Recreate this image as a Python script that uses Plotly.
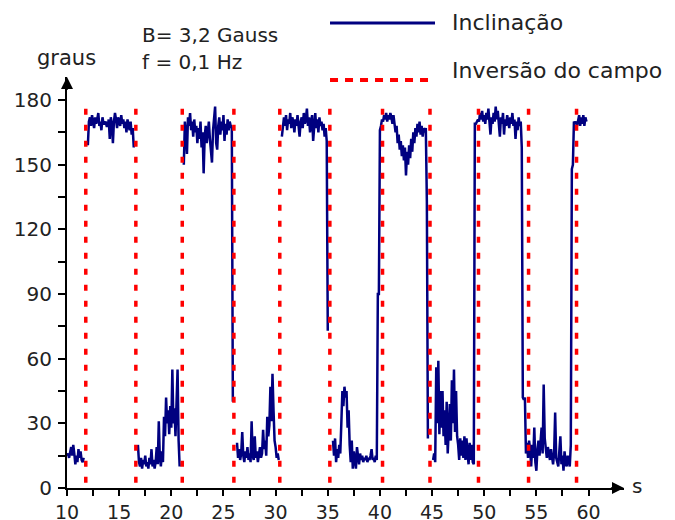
import plotly.graph_objects as go

STEP = 0.1

low0_start = 10.0
low0 = [15, 16, 14, 17, 19, 15, 20, 16, 11, 15, 12, 18, 14, 17, 13, 12, 14]

high1_start = 12.0
high1 = [159, 170, 172, 168, 173, 170, 167, 172, 169, 171, 174, 168, 170, 166, 172,
         169, 169, 170, 168, 168, 171, 162, 172, 169, 160, 170, 174, 171, 167, 172,
         170, 168, 173, 169, 171, 167, 170, 165, 171, 168, 166, 170, 164, 167, 158]

low1_start = 16.8
low1 = [20, 12, 10, 14, 9, 13, 11, 15, 10, 12, 9, 14, 11, 18, 10, 13, 9, 12, 19, 11,
        31, 14, 10, 17, 12, 33, 24, 42, 30, 36, 25, 38, 28, 55, 30, 37, 24, 36, 55, 22, 10]

high2_start = 21.2
high2 = [150, 170, 165, 155, 172, 168, 174, 166, 170, 163, 171, 165, 168, 160, 167,
         162, 170, 158, 165, 146, 163, 168, 160, 166, 170, 162, 157, 151, 166, 171,
         177, 160, 157, 168, 172, 164, 170, 166, 173, 161, 169, 164, 171, 166, 170,
         168, 167, 40]

low2_start = 26.3
low2 = [21, 14, 18, 13, 16, 26, 15, 12, 17, 14, 19, 13, 16, 12, 31, 15, 13, 24, 14, 17,
        12, 16, 19, 14, 16, 27, 18, 22, 15, 33, 24, 29, 47, 31, 53, 36, 22, 19, 14, 16, 13]

high3_start = 30.6
high3 = [163, 170, 172, 168, 173, 166, 171, 169, 174, 167, 172, 170, 165, 171, 168,
         173, 166, 163, 170, 172, 167, 174, 169, 171, 176, 168, 172, 165, 170, 173,
         161, 169, 174, 167, 171, 165, 172, 168, 170, 166, 169, 163, 167, 161, 73]

low3_start = 35.5
low3 = [22, 15, 23, 12, 18, 14, 20, 16, 30, 45, 38, 47, 42, 45, 28, 36, 20, 12, 22, 9,
        17, 12, 9, 19, 14, 11, 16, 13, 15, 12, 14, 13, 15, 12, 14, 13, 15, 18, 13, 14,
        12, 15, 13]
rise3 = [90, 90]
high4 = [166, 168, 171, 170, 173, 171, 174, 170, 173, 171, 174, 172, 169, 173, 170,
         165, 168, 160, 164, 157, 161, 154, 159, 152, 158, 145, 156, 150, 159, 153,
         162, 156, 165, 160, 167, 163, 169, 165, 170, 164, 168, 163, 167, 165, 167,
         133, 23]

low4_start = 45.1
low4 = [13, 16, 12, 56, 30, 59, 25, 45, 28, 45, 24, 36, 20, 40, 16, 30, 39, 22, 50, 30,
        55, 26, 45, 24, 20, 13, 23, 15, 22, 14, 24, 13, 23, 16, 11, 21, 13, 20, 12, 11]
rise4 = [169, 169, 170, 171, 170]
high5 = [174, 171, 175, 170, 173, 169, 174, 171, 176, 170, 164, 172, 169, 174, 170,
         177, 171, 175, 168, 163, 172, 169, 174, 164, 171, 168, 173, 170, 167, 172,
         169, 174, 168, 171, 162, 170, 166, 172, 168, 170, 158]
drop5 = [42, 41, 42]
low5 = [16, 21, 14, 22, 18, 10, 20, 14, 28, 12, 8, 18, 22, 15, 20, 28, 16, 48, 23, 17,
        14, 19, 15, 13, 18, 14, 11, 16, 35, 14, 12, 10, 17, 24, 11, 15, 8, 17, 12, 10,
        15, 12, 10, 20]
rise5 = [148, 150]
high6 = [170, 169, 170, 168, 171, 173, 168, 172, 169, 173, 168, 172, 170]

segments = [
    (low0_start, low0),
    (high1_start, high1),
    (low1_start, low1),
    (high2_start, high2),
    (low2_start, low2),
    (high3_start, high3),
    (low3_start, low3 + rise3 + high4),
    (low4_start, low4 + rise4 + high5 + drop5 + low5 + rise5 + high6),
]

# --- Inversão do campo (s) ---
inversion_times = [11.8, 16.6, 21.05, 26.0, 30.4, 35.2, 40.25, 44.8, 49.45, 54.25, 58.85]
inversion_top = 176

x_major = [10, 15, 20, 25, 30, 35, 40, 45, 50, 55, 60]
x_minor = [12.5, 17.5, 22.5, 27.5, 32.5, 37.5, 42.5, 47.5, 52.5, 57.5]
y_major = [0, 30, 60, 90, 120, 150, 180]
y_minor = [15, 45, 75, 105, 135, 165]

FONT = "DejaVu Sans"
TXT = "#222222"
BLUE = "#000080"
RED = "#ff0000"

bx, by = [], []
for start, vals in segments:
    for i, v in enumerate(vals):
        bx.append(round(start + i * STEP, 3))
        by.append(v)
    bx.append(None)
    by.append(None)

rx, ry = [], []
for t in inversion_times:
    rx += [t, t, None]
    ry += [inversion_top, 0, None]

fig = go.Figure()
fig.add_trace(go.Scatter(x=bx, y=by, mode="lines", connectgaps=False,
                         line=dict(color=BLUE, width=2.5), showlegend=False,
                         name="Inclinação"))
fig.add_trace(go.Scatter(x=rx, y=ry, mode="lines",
                         line=dict(color=RED, width=3.5, dash="6px,10px"),
                         showlegend=False, name="Inversão do campo"))

axis_common = dict(showgrid=False, zeroline=False, showline=True, linecolor="black",
                   linewidth=2, ticks="outside", tickwidth=1.5,
                   tickcolor="black", automargin=False)

fig.update_xaxes(range=[10, 63.4], tickvals=x_major, ticktext=[str(v) for v in x_major],
                 ticklen=6, tickfont=dict(family=FONT, size=19, color=TXT),
                 minor=dict(tickvals=x_minor, ticks="outside", ticklen=6, tickwidth=1.5,
                            tickcolor="black"),
                 ticklabelstandoff=0, **axis_common)
fig.update_yaxes(range=[0, 190.7], tickvals=y_major, ticktext=[str(v) for v in y_major],
                 ticklen=7, tickfont=dict(family=FONT, size=20, color=TXT),
                 minor=dict(tickvals=y_minor, ticks="outside", ticklen=7, tickwidth=1.5,
                            tickcolor="black"),
                 ticklabelstandoff=2, **axis_common)

# axis arrowheads
fig.add_annotation(x=63.4, y=0, ax=62.0, ay=0, xref="x", yref="y", axref="x", ayref="y",
                   showarrow=True, arrowhead=2, arrowsize=1.6, arrowwidth=1.5,
                   arrowcolor="black", text="")
fig.add_annotation(x=10, y=190.7, ax=10, ay=184, xref="x", yref="y", axref="x", ayref="y",
                   showarrow=True, arrowhead=2, arrowsize=1.6, arrowwidth=1.5,
                   arrowcolor="black", text="")

# custom legend
fig.add_shape(type="line", xref="paper", yref="paper", x0=0.4722, x1=0.6607,
              y0=1.1314, y1=1.1314, line=dict(color=BLUE, width=3))
fig.add_shape(type="line", xref="paper", yref="paper", x0=0.4722, x1=0.6607,
              y0=0.9927, y1=0.9927, line=dict(color=RED, width=4, dash="8px,7px"))

def label(text, x, y, size=20, xanchor="left"):
    fig.add_annotation(text=text, x=x, y=y, xref="paper", yref="paper",
                       xanchor=xanchor, yanchor="middle", showarrow=False,
                       font=dict(family=FONT, size=size, color=TXT))

label("Inclinação", 0.6876, 1.1338, size=22)
label("Inversão do campo", 0.6876, 1.0170, size=22)
label("B= 3,2 Gauss", 0.1311, 1.1022)
label("f = 0,1 Hz", 0.1311, 1.0365)
label("graus", -0.0575, 1.046, size=21)
label("s", 1.0107, 0.005)

# page body has an 8px margin, so the figure is 8px smaller than the window
fig.update_layout(width=667, height=512, margin=dict(l=59, r=51, t=69, b=32),
                  plot_bgcolor="white", paper_bgcolor="white", showlegend=False)

fig.write_html("out.html")
